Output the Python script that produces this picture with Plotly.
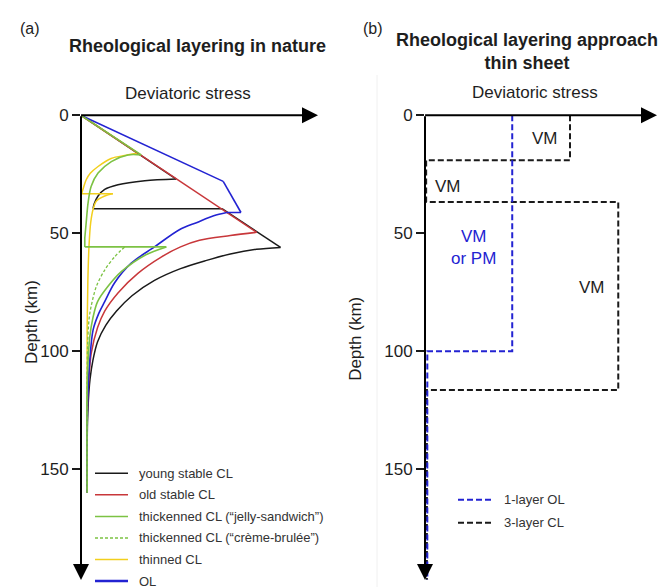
import plotly.graph_objects as go

W, H = 665, 587
FONT = "Liberation Sans, Arial, sans-serif"
TXT = "#1e1e1e"

# ---------------- Panel (a): strength envelopes ----------------
# stress in arbitrary units (0-100 across the stress axis), depth in km
young_stress = [0, 40.2, 26.9, 15.6, 10.0, 7.2, 5.5, 5.1, 59.5, 84.2, 74, 63, 53, 42, 31,
                21.5, 15, 10.5, 7, 5, 3.8, 3.1, 2.7, 2.6]
young_depth = [0, 27.0, 27.7, 29.4, 31.4, 34.2, 37.7, 39.6, 39.6, 56.0, 56.8, 58.8, 61.5, 65, 70,
               76.5, 83, 89, 96, 104, 112, 121, 132, 160]
young_corners = [0, 1, 7, 8, 9, 23]

old_stress = [0, 74.1, 63, 50, 42, 34, 24, 15.6, 10, 7, 4.3, 3.2, 2.7, 2.6]
old_depth = [0, 49.6, 51, 53, 55.8, 60, 67, 75.3, 83, 90, 101, 114, 125, 160]
old_corners = [0, 1, 13]

jelly_stress = [0, 25.4, 19.8, 12.8, 7.2, 4.3, 3.0, 2.2, 1.6, 1.6, 36.0, 27, 17, 11.4, 7, 5,
                3.7, 3.0, 2.6, 2.6]
jelly_depth = [0, 16.8, 16.8, 19.6, 24.5, 30.1, 37.0, 45.4, 52, 55.8, 55.8, 59.3, 66.3, 72.5, 79, 86,
               94, 104, 115, 160]
jelly_corners = [0, 1, 8, 9, 10, 19]

creme_stress = [18.4, 14.2, 10.0, 6.5, 4.3, 3.4, 2.8, 2.6, 2.6]
creme_depth = [55.8, 60.0, 65.6, 72.5, 80.9, 86.4, 97, 110, 160]
creme_corners = [0, 8]

thin_stress = [0, 24, 19, 12.7, 7.2, 4.0, 2.2, 1.1, 0.3, 13.5, 10, 6.5, 5.1, 4.1, 3.4, 2.9, 2.6, 2.6]
thin_depth = [0, 16, 16.9, 18.3, 21.7, 24.5, 27.3, 30.5, 33.2, 33.2, 34.2, 36.3, 39.8, 45.4, 55, 70, 90, 160]
thin_corners = [0, 1, 8, 9, 17]

ol_stress = [0, 60.0, 67.5, 61.5, 56, 49, 41.5, 31, 21.2, 14.2, 10, 7.5, 5.1, 3.7, 3.0, 2.6, 2.6]
ol_depth = [0, 28.0, 41.2, 41.2, 42.6, 45.4, 48.5, 55.8, 62.7, 71, 79, 84, 91, 104, 116, 130, 160]
ol_corners = [0, 1, 2, 3, 16]

# ---------------- Panel (b): thin-sheet layering ----------------
cl3_stress = [62.5, 62.5, 0.5, 0.5, 83.3, 83.3, 0.8, 0.8]
cl3_depth = [0, 19, 19, 36.7, 36.7, 116.5, 116.5, 197]
ol1_stress = [37.6, 37.6, 1.0, 1.0]
ol1_depth = [0, 100, 100, 197]

depth_ticks = [0, 50, 100, 150]
DEPTH_MAX = 197.1
STRESS_MAX = 100

BLACK = "#1a1a1a"
RED = "#c8373a"
GREEN = "#7cc243"
YELLOW = "#f2cf1d"
BLUE = "#2323d2"

profiles_a = [
    ("young stable CL", young_stress, young_depth, young_corners, BLACK, "solid", 1.5),
    ("thinned CL", thin_stress, thin_depth, thin_corners, YELLOW, "solid", 1.5),
    ("old stable CL", old_stress, old_depth, old_corners, RED, "solid", 1.5),
    ("OL", ol_stress, ol_depth, ol_corners, BLUE, "solid", 1.6),
    ("thickenned CL (\u201ccr\u00e8me-brul\u00e9e\u201d)", creme_stress, creme_depth, creme_corners,
     GREEN, "3px,2px", 1.3),
    ("thickenned CL (\u201cjelly-sandwich\u201d)", jelly_stress, jelly_depth, jelly_corners,
     GREEN, "solid", 1.6),
]

profiles_b = [
    ("3-layer CL", cl3_stress, cl3_depth, BLACK, "6px,3px", 2),
    ("1-layer OL", ol1_stress, ol1_depth, BLUE, "6px,3px", 2),
]

fig = go.Figure()
# each envelope: straight brittle/jump segments keep sharp corners,
# ductile branches between corners are drawn as smooth splines
for name, s, d, corners, c, dash, w in profiles_a:
    for a, b in zip(corners[:-1], corners[1:]):
        fig.add_trace(go.Scatter(x=s[a:b + 1], y=d[a:b + 1], mode="lines", name=name,
                                 xaxis="x", yaxis="y",
                                 line=dict(color=c, width=w, dash=dash, shape="spline", smoothing=0.9),
                                 hoverinfo="skip"))
for name, s, d, c, dash, w in profiles_b:
    fig.add_trace(go.Scatter(x=s, y=d, mode="lines", name=name, xaxis="x2", yaxis="y2",
                             line=dict(color=c, width=w, dash=dash), hoverinfo="skip"))


def px(x):
    return x / W


def py(y):
    return 1 - y / H


ydom = [py(580), py(108)]
yax = dict(range=[DEPTH_MAX, 0], domain=ydom, showgrid=False, zeroline=False, showline=False,
           tickvals=depth_ticks, ticks="outside", ticklen=8, tickwidth=1.5, tickcolor=BLACK,
           tickfont=dict(family=FONT, size=17, color=TXT), fixedrange=True)
xax = dict(range=[0, STRESS_MAX], showgrid=False, zeroline=False, showline=False,
           showticklabels=False, ticks="", fixedrange=True)

fig.update_layout(
    width=W, height=H, margin=dict(l=0, r=0, t=0, b=0),
    paper_bgcolor="white", plot_bgcolor="white", showlegend=False,
    xaxis=dict(xax, domain=[px(81), px(318)]),
    yaxis=dict(yax, anchor="x"),
    xaxis2=dict(xax, domain=[px(425), px(657)]),
    yaxis2=dict(yax, anchor="x2"),
)

ann = []
shapes = []

# axis arrows
for xr, yr in (("x", "y"), ("x2", "y2")):
    ann.append(dict(x=STRESS_MAX, y=0, ax=-0.6, ay=0, xref=xr, yref=yr, axref=xr, ayref=yr,
                    text="", showarrow=True, arrowhead=2, arrowsize=1.6, arrowwidth=2,
                    arrowcolor="black", standoff=0))
    ann.append(dict(x=0, y=DEPTH_MAX, ax=0, ay=-0.3, xref=xr, yref=yr, axref=xr, ayref=yr,
                    text="", showarrow=True, arrowhead=2, arrowsize=1.6, arrowwidth=2,
                    arrowcolor="black", standoff=0))


def label(x, y, text, size=17, color=TXT, anchor="center", angle=0):
    ann.append(dict(x=px(x), y=py(y), xref="paper", yref="paper", text=text, showarrow=False,
                    xanchor=anchor, yanchor="middle", textangle=angle,
                    font=dict(family=FONT, size=size, color=color)))


# panel letters, titles, axis titles
label(30, 20, "(a)", size=16)
label(373, 20, "(b)", size=16)
label(197, 38, "<b>Rheological layering in nature</b>", size=18)
label(527, 43, "<b>Rheological layering approach<br>thin sheet</b>", size=18)
label(188, 86, "Deviatoric stress", size=17)
label(535, 85, "Deviatoric stress", size=17)
label(31, 318, "Depth (km)", size=17, angle=-90)
label(356, 335, "Depth (km)", size=17, angle=-90)

# panel (b) layer labels
label(545, 132, "VM")
label(448, 180, "VM")
label(473, 242, "VM<br>or PM", color=BLUE)
label(592, 283, "VM")

# faint frame edge of panel (b)
shapes.append(dict(type="line", xref="paper", yref="paper", x0=px(377), x1=px(377),
                   y0=py(67), y1=py(587), line=dict(color="#f0f0f0", width=1)))

# legend (a)
leg_a = [
    ("young stable CL", BLACK, "solid", 1.5),
    ("old stable CL", RED, "solid", 1.5),
    ("thickenned CL (\u201cjelly-sandwich\u201d)", GREEN, "solid", 1.5),
    ("thickenned CL (\u201ccr\u00e8me-brul\u00e9e\u201d)", GREEN, "3px,2px", 1.5),
    ("thinned CL", YELLOW, "solid", 1.5),
    ("OL", BLUE, "solid", 2.5),
]
for i, (t, c, dash, w) in enumerate(leg_a):
    yy = 471.5 + i * 21.9
    shapes.append(dict(type="line", xref="paper", yref="paper", x0=px(95), x1=px(128),
                       y0=py(yy), y1=py(yy), line=dict(color=c, width=w, dash=dash)))
    label(137, yy, t, size=13, color="#333333", anchor="left")

# legend (b)
leg_b = [("1-layer OL", BLUE), ("3-layer CL", BLACK)]
for i, (t, c) in enumerate(leg_b):
    yy = 498.3 + i * 23.4
    shapes.append(dict(type="line", xref="paper", yref="paper", x0=px(458), x1=px(493),
                       y0=py(yy), y1=py(yy), line=dict(color=c, width=2, dash="6px,3px")))
    label(502, yy, t, size=13, color="#333333", anchor="left")

fig.update_layout(annotations=ann, shapes=shapes)
fig.write_html("out.html", post_script="document.body.style.margin='0';")
